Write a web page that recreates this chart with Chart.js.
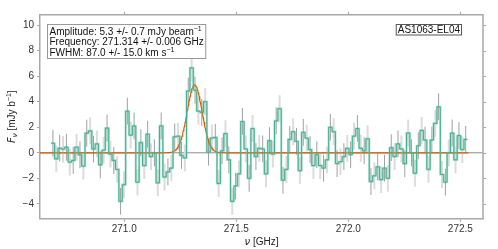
<!DOCTYPE html>
<html>
<head>
<meta charset="utf-8">
<script src="https://cdn.jsdelivr.net/npm/chart.js@4.4.1/dist/chart.umd.min.js"></script>
<style>
  html, body { margin: 0; padding: 0; background: #fff; }
  canvas { display: block; }
</style>
</head>
<body>
<canvas id="spec" width="498" height="249"></canvas>
<script>
// spectrum channels (GHz) and flux densities (mJy/beam)
const CHAN_START = 270.674;
const CHAN_WIDTH = 0.0151;
const flux = [
  0.75, -0.47, 0.36, 0.29, 0.44, -0.73, -0.6, 0.44, -0.16, -1.05,
  1.54, 1.72, 0.29, 0.7, -0.94, 0.2, 1.93, -0.1, -0.6, -1.3, -3.8, -2.5,
  3.26, 1.38, 2.1, -2.3, 0.8, -1.0, 1.46, -0.3, 0.0, -2.35, 2.1, -1.9, -1.5, -1.2,
  1.25, 1.3, -0.2, -0.4, 4.83, 6.65, 4.9, 3.26, 3.16, 4.0, 0.05, 1.15, 1.2,
  -2.4, 0.15, 1.5, -0.55, -3.8, -2.6, -1.65, 2.45, 0.3, -2.0, 1.9, -0.3, 0.35, 0.3,
  -1.65, 0.95, -0.1, 2.5, 3.45, -2.15, -1.3, 1.05, 1.65, 0.9,
  -1.4, 1.6, 1.15, 0.25, -1.0, -0.15, -1.0, -1.2, -0.55, 2.0, 1.65, -0.85, -0.7,
  -0.3, 0.35, -0.15, 1.3, 1.9, 0.35, 0.15, 1.1, -2.25, -1.8, -1.1, -2.1,
  -1.2, -2.0, 0.4, -0.3, 0.7, 0.3, -0.85, 1.55, 0.0, -1.6, 0.55, 1.75, 1.0,
  -1.3, 1.0, 2.3, 3.6, -1.7, -2.3, 0.0, 1.55, -0.55, 1.35, 0.25, 1.05
];
const FLUX_ERR = 1.05;   // 1-sigma per channel, roughly constant

// gaussian fit (values from the text box)
const FIT_AMP = 5.3;
const FIT_FREQ = 271.314;
const FIT_FWHM_KMS = 87.0;
const FIT_END = 272.54;

const X_MIN = 270.624, X_MAX = 272.601;
const Y_MIN = -5.16, Y_MAX = 10.81;
const X_TICKS = [271.0, 271.5, 272.0, 272.5];
const Y_TICKS = [-4, -2, 0, 2, 4, 6, 8, 10];

const FONT = "'Liberation Sans', Arial, sans-serif";
const AXIS_GRAY = '#a8a8a8';

// step outline: left channel edges + closing right edge
const stepPts = flux.map((v, i) => ({ x: CHAN_START + i * CHAN_WIDTH, y: v }));
stepPts.push({ x: CHAN_START + flux.length * CHAN_WIDTH, y: flux[flux.length - 1] });

// fit curve
const fwhmGHz = FIT_FWHM_KMS / 299792.458 * FIT_FREQ;
const sigma = fwhmGHz / 2.3548;
const fitPts = [];
for (let x = X_MIN; x <= FIT_END; x += 0.002) {
  fitPts.push({ x: x, y: FIT_AMP * Math.exp(-0.5 * Math.pow((x - FIT_FREQ) / sigma, 2)) });
}

function richText(ctx, x, y, parts, align) {
  let w = 0;
  parts.forEach(p => { ctx.font = p.font; w += ctx.measureText(p.t).width; });
  let cx = align === 'right' ? x - w : (align === 'center' ? x - w / 2 : x);
  parts.forEach(p => {
    ctx.font = p.font;
    ctx.fillText(p.t, cx, y + (p.dy || 0));
    cx += ctx.measureText(p.t).width;
  });
  return w;
}

const decor = {
  id: 'decor',
  beforeDatasetsDraw(chart) {
    const { ctx, chartArea: a, scales: { x, y } } = chart;
    ctx.save();
    // zero line
    ctx.strokeStyle = '#8c8c8c';
    ctx.lineWidth = 1;
    ctx.beginPath();
    ctx.moveTo(a.left, y.getPixelForValue(0));
    ctx.lineTo(a.right, y.getPixelForValue(0));
    ctx.stroke();
    // error bars
    flux.forEach((v, i) => {
      const px = x.getPixelForValue(CHAN_START + (i + 0.5) * CHAN_WIDTH);
      ctx.strokeStyle = i % 2 ? '#dcdcdc' : '#a0a0a0';
      ctx.lineWidth = i % 2 ? 2 : 1;
      ctx.beginPath();
      ctx.moveTo(px, y.getPixelForValue(v - FLUX_ERR));
      ctx.lineTo(px, y.getPixelForValue(v + FLUX_ERR));
      ctx.stroke();
    });
    ctx.restore();
  },
  afterDraw(chart) {
    const { ctx, chartArea: a, scales: { x, y } } = chart;
    ctx.save();
    // top and right spines with outward ticks
    ctx.strokeStyle = AXIS_GRAY;
    ctx.lineWidth = 1.5;
    ctx.beginPath();
    ctx.moveTo(a.left, a.top); ctx.lineTo(a.right, a.top); ctx.lineTo(a.right, a.bottom);
    ctx.stroke();
    ctx.lineWidth = 1;
    X_TICKS.forEach(t => {
      const px = Math.round(x.getPixelForValue(t)) + 0.5;
      ctx.beginPath(); ctx.moveTo(px, a.top); ctx.lineTo(px, a.top - 3); ctx.stroke();
    });
    Y_TICKS.forEach(t => {
      const py = Math.round(y.getPixelForValue(t)) + 0.5;
      ctx.beginPath(); ctx.moveTo(a.right, py); ctx.lineTo(a.right + 3, py); ctx.stroke();
    });

    // fit results box
    const f = '10px ' + FONT, s = '7px ' + FONT;
    const lines = [
      [{ t: 'Amplitude: 5.3 +/- 0.7 mJy beam', font: f }, { t: '\u22121', font: s, dy: -4 }],
      [{ t: 'Frequency: 271.314 +/- 0.006 GHz', font: f }],
      [{ t: 'FWHM: 87.0 +/- 15.0 km s', font: f }, { t: '\u22121', font: s, dy: -4 }]
    ];
    let wMax = 0;
    lines.forEach(l => {
      let w = 0;
      l.forEach(p => { ctx.font = p.font; w += ctx.measureText(p.t).width; });
      wMax = Math.max(wMax, w);
    });
    ctx.fillStyle = '#fff';
    ctx.strokeStyle = '#999';
    ctx.lineWidth = 1;
    ctx.fillRect(47.5, 24.5, wMax + 4, 34);
    ctx.strokeRect(47.5, 24.5, wMax + 4, 34);
    ctx.fillStyle = '#111';
    ctx.textBaseline = 'alphabetic';
    lines.forEach((l, i) => richText(ctx, 49.5, 34.5 + i * 10.8, l, 'left'));

    // source name box
    ctx.font = f;
    const name = 'AS1063-EL04';
    const nw = ctx.measureText(name).width;
    ctx.fillStyle = '#fff';
    ctx.fillRect(461.5 - nw - 3, 24.5, nw + 3, 10.5);
    ctx.strokeStyle = '#555';
    ctx.strokeRect(461.5 - nw - 3, 24.5, nw + 3, 10.5);
    ctx.fillStyle = '#111';
    ctx.fillText(name, 460 - nw, 33.3);

    // axis titles
    ctx.fillStyle = '#222';
    richText(ctx, (a.left + a.right) / 2, 245, [
      { t: '\u03bd', font: "italic 10px 'DejaVu Sans', sans-serif" },
      { t: ' [GHz]', font: f }
    ], 'center');
    ctx.translate(15, (a.top + a.bottom) / 2);
    ctx.rotate(-Math.PI / 2);
    richText(ctx, 0, 0, [
      { t: 'F', font: "italic 10px 'DejaVu Sans', sans-serif" },
      { t: '\u03bd', font: "italic 7px 'DejaVu Sans', sans-serif", dy: 2 },
      { t: ' [mJy b', font: f },
      { t: '\u22121', font: s, dy: -4 },
      { t: ']', font: f }
    ], 'center');
    ctx.restore();
  }
};

new Chart(document.getElementById('spec'), {
  type: 'line',
  data: {
    datasets: [
      {
        data: stepPts, stepped: true,
        borderColor: 'rgba(102, 194, 165, 0.5)', borderWidth: 2.2,
        pointRadius: 0, fill: false
      },
      {
        data: stepPts, stepped: true,
        borderColor: '#1b9e77', borderWidth: 1,
        pointRadius: 0, fill: false
      },
      {
        data: fitPts,
        borderColor: '#d95f02', borderWidth: 1.2,
        pointRadius: 0, fill: false, tension: 0
      }
    ]
  },
  options: {
    responsive: false,
    animation: false,
    events: [],
    layout: { padding: { left: 0, top: 14.7, right: 15, bottom: 0 } },
    plugins: { legend: { display: false }, tooltip: { enabled: false } },
    scales: {
      x: {
        type: 'linear', min: X_MIN, max: X_MAX,
        afterBuildTicks: sc => { sc.ticks = X_TICKS.map(v => ({ value: v })); },
        afterFit: sc => { sc.height = 30.3; },
        ticks: {
          callback: v => v.toFixed(1), color: '#333', padding: 2,
          maxRotation: 0, font: { family: FONT, size: 10 }
        },
        grid: { drawOnChartArea: false, drawTicks: true, tickLength: 3, color: AXIS_GRAY },
        border: { color: AXIS_GRAY, width: 1.5 }
      },
      y: {
        type: 'linear', min: Y_MIN, max: Y_MAX,
        afterBuildTicks: sc => { sc.ticks = Y_TICKS.map(v => ({ value: v })); },
        afterFit: sc => { sc.width = 40; },
        ticks: {
          callback: v => v < 0 ? '\u2212' + Math.abs(v) : String(v),
          color: '#333', padding: 3, font: { family: FONT, size: 10 }
        },
        grid: { drawOnChartArea: false, drawTicks: true, tickLength: 3, color: AXIS_GRAY },
        border: { color: AXIS_GRAY, width: 1.5 }
      }
    }
  },
  plugins: [decor]
});
</script>
</body>
</html>
